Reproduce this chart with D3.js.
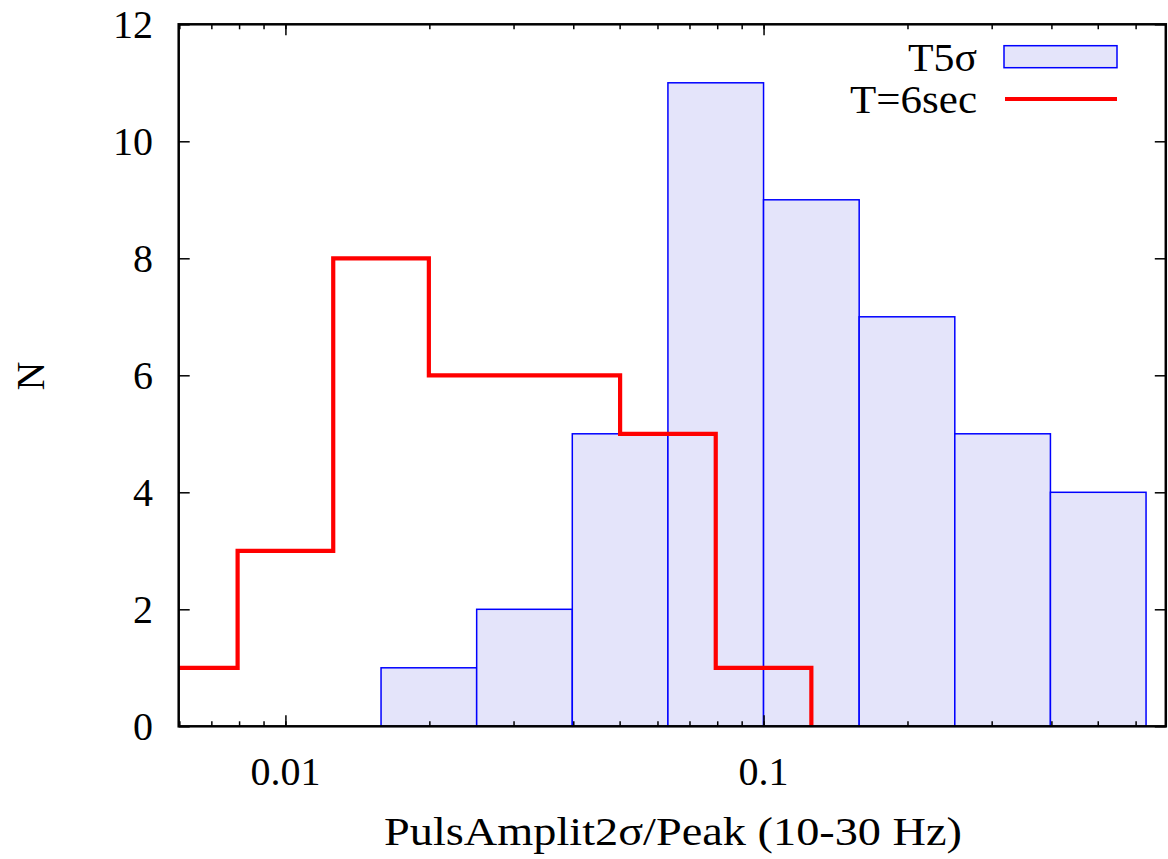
<!DOCTYPE html>
<html><head><meta charset="utf-8">
<script src="https://cdn.jsdelivr.net/npm/d3@7"></script>
<style>body{margin:0;background:#fff}</style>
</head><body>
<svg id="c" width="1168" height="859"></svg>
<script>
// Data: log10 bin edges and counts
const blueBinEdgesLog = [-1.8, -1.6, -1.4, -1.2, -1.0, -0.8, -0.6, -0.4, -0.2];
const blueCounts = [1, 2, 5, 11, 9, 7, 5, 4];
const redBinEdgesLog = [-2.3, -2.1, -1.9, -1.7, -1.5, -1.3, -1.1, -0.9];
const redCounts = [1, 3, 8, 6, 6, 5, 1];
const yTicks = [0, 2, 4, 6, 8, 10, 12];
const xTickValues = [0.01, 0.1];
const xTickLabels = ["0.01", "0.1"];
const seriesNames = ["T5σ", "T=6sec"];
const xLabel = "PulsAmplit2σ/Peak (10-30 Hz)";
const yLabel = "N";

const W = 1168, H = 859;
const m = {l: 178.7, r: 1165.8, t: 24.3, b: 726.3};
const font = "'Liberation Serif', serif";
const fs = 40;

const svg = d3.select("#c");
const x = d3.scaleLog().domain([Math.pow(10, -2.2232), Math.pow(10, -0.1587)]).range([m.l, m.r]);
const y = d3.scaleLinear().domain([0, 12]).range([m.b, m.t]);

svg.append("clipPath").attr("id", "clp").append("rect")
  .attr("x", m.l).attr("y", m.t).attr("width", m.r - m.l).attr("height", m.b - m.t);

// Blue bars
const bars = blueCounts.map((c, i) => ({x0: Math.pow(10, blueBinEdgesLog[i]), x1: Math.pow(10, blueBinEdgesLog[i + 1]), c}));
svg.append("g").selectAll("rect").data(bars).join("rect")
  .attr("x", d => x(d.x0)).attr("width", d => x(d.x1) - x(d.x0))
  .attr("y", d => y(d.c)).attr("height", d => y(0) - y(d.c))
  .attr("fill", "#e4e4fa").attr("stroke", "#0000ff").attr("stroke-width", 1.5);

// Red step line
const pts = [];
redCounts.forEach((c, i) => {
  pts.push([Math.pow(10, redBinEdgesLog[i]), c]);
  pts.push([Math.pow(10, redBinEdgesLog[i + 1]), c]);
});
pts.push([Math.pow(10, redBinEdgesLog[redBinEdgesLog.length - 1]), 0]);
svg.append("path").attr("clip-path", "url(#clp)")
  .attr("d", d3.line().x(d => x(d[0])).y(d => y(d[1]))(pts))
  .attr("fill", "none").attr("stroke", "#ff0000").attr("stroke-width", 4.2)
  .attr("stroke-linejoin", "miter");

// Axes (ticks inward, mirrored)
const axisG = svg.append("g");
const minorX = [];
for (let e = -3; e <= 0; e++) for (let k = 1; k <= 9; k++) {
  const v = k * Math.pow(10, e);
  if (v >= x.domain()[0] && v <= x.domain()[1]) minorX.push(v);
}
function drawX(g, yPos, dir) {
  g.append("g").attr("transform", `translate(0,${yPos})`)
    .call(d3.axisBottom(x).tickValues(minorX).tickSize(dir * 5).tickFormat(""))
    .call(s => s.select(".domain").remove());
  g.append("g").attr("transform", `translate(0,${yPos})`)
    .call(d3.axisBottom(x).tickValues(xTickValues).tickSize(dir * 11).tickFormat(""))
    .call(s => s.select(".domain").remove());
}
drawX(axisG, m.b, -1);
drawX(axisG, m.t, 1);
axisG.append("g").attr("transform", `translate(${m.l},0)`)
  .call(d3.axisLeft(y).tickValues(yTicks).tickSize(-11).tickFormat(""))
  .call(s => s.select(".domain").remove());
axisG.append("g").attr("transform", `translate(${m.r},0)`)
  .call(d3.axisRight(y).tickValues(yTicks).tickSize(-11).tickFormat(""))
  .call(s => s.select(".domain").remove());
axisG.selectAll("line").attr("stroke", "#000").attr("stroke-width", 1.5);
axisG.append("rect").attr("x", m.l).attr("y", m.t).attr("width", m.r - m.l).attr("height", m.b - m.t)
  .attr("fill", "none").attr("stroke", "#000").attr("stroke-width", 2.5);

// Tick labels
svg.append("g").selectAll("text").data(yTicks).join("text")
  .attr("x", 153).attr("y", d => y(d)).attr("dy", "0.34em")
  .attr("text-anchor", "end").attr("font-family", font).attr("font-size", fs).text(d => d);
svg.append("g").selectAll("text").data(xTickValues).join("text")
  .attr("x", d => x(d)).attr("y", 785)
  .attr("text-anchor", "middle").attr("font-family", font).attr("font-size", fs)
  .text((d, i) => xTickLabels[i]);

// Axis labels
svg.append("text").attr("x", 673).attr("y", 845).attr("text-anchor", "middle")
  .attr("font-family", font).attr("font-size", fs)
  .attr("textLength", 578).attr("lengthAdjust", "spacingAndGlyphs").text(xLabel);
svg.append("text").attr("transform", "translate(44,376) rotate(-90)").attr("text-anchor", "middle")
  .attr("font-family", font).attr("font-size", fs).text(yLabel);

// Legend
const lg = svg.append("g");
lg.append("text").attr("x", 977).attr("y", 57).attr("dy", "0.34em").attr("text-anchor", "end")
  .attr("font-family", font).attr("font-size", fs)
  .attr("textLength", 69).attr("lengthAdjust", "spacingAndGlyphs").text(seriesNames[0]);
lg.append("rect").attr("x", 1004).attr("y", 45.7).attr("width", 113).attr("height", 22)
  .attr("fill", "#e4e4fa").attr("stroke", "#0000ff").attr("stroke-width", 1.5);
lg.append("text").attr("x", 977).attr("y", 99).attr("dy", "0.34em").attr("text-anchor", "end")
  .attr("font-family", font).attr("font-size", fs)
  .attr("textLength", 127).attr("lengthAdjust", "spacingAndGlyphs").text(seriesNames[1]);
lg.append("line").attr("x1", 1005).attr("x2", 1117).attr("y1", 99).attr("y2", 99)
  .attr("stroke", "#ff0000").attr("stroke-width", 4.2);
</script>
</body></html>
